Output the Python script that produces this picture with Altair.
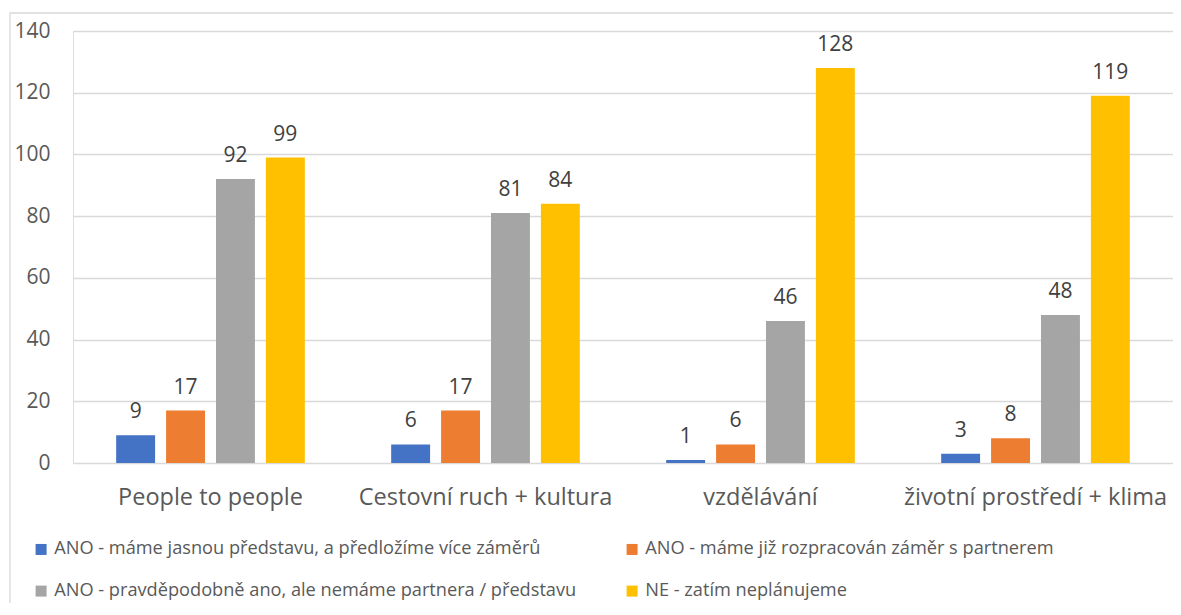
import altair as alt
import pandas as pd

categories = ["People to people", "Cestovní ruch + kultura", "vzdělávání", "životní prostředí + klima"]
series = [
    "ANO - máme jasnou představu, a předložíme více záměrů",
    "ANO - máme již rozpracován záměr s partnerem",
    "ANO - pravděpodobně ano, ale nemáme partnera / představu",
    "NE - zatím neplánujeme",
]
colors = ["#4472C4", "#ED7D31", "#A5A5A5", "#FFC000"]
values_s1 = [9, 6, 1, 3]
values_s2 = [17, 17, 6, 8]
values_s3 = [92, 81, 46, 48]
values_s4 = [99, 84, 128, 119]
y_ticks = [0, 20, 40, 60, 80, 100, 120, 140]

rows = []
for s, vals in zip(series, [values_s1, values_s2, values_s3, values_s4]):
    for c, v in zip(categories, vals):
        rows.append({"kategorie": c, "odpověď": s, "počet": v})
df = pd.DataFrame(rows)

FONT = "Open Sans"

x_enc = alt.X("kategorie:N", sort=categories, title=None,
              scale=alt.Scale(paddingInner=0.314, paddingOuter=0.157),
              axis=alt.Axis(labelAngle=0, ticks=False, domain=False, labelPadding=22,
                            labelFontSize=23.5, labelColor="#595959", labelFont=FONT,
                            labelLimit=500, grid=False))
xo_enc = alt.XOffset("odpověď:N", sort=series,
                     scale=alt.Scale(paddingInner=0.22, paddingOuter=0))
y_enc = alt.Y("počet:Q", title=None,
              scale=alt.Scale(domain=[0, 140], nice=False),
              axis=alt.Axis(values=y_ticks, ticks=False, domain=False, labelPadding=23,
                            labelFontSize=21, labelColor="#595959", labelFont=FONT,
                            grid=True, gridColor="#D9D9D9", gridWidth=1.3))

bars = alt.Chart(df).mark_bar().encode(
    x=x_enc,
    xOffset=xo_enc,
    y=y_enc,
    color=alt.Color("odpověď:N", sort=series,
                    scale=alt.Scale(domain=series, range=colors),
                    legend=alt.Legend(title=None, orient="none", legendX=-41, legendY=509,
                                      columns=2, direction="horizontal",
                                      symbolType="square", symbolSize=121,
                                      symbolStrokeWidth=0, labelFontSize=18.2,
                                      labelFont=FONT, labelColor="#595959",
                                      labelOffset=4, columnPadding=46, rowPadding=23,
                                      labelLimit=800, padding=0)),
)

labels = alt.Chart(df).mark_text(baseline="alphabetic", dy=-17, fontSize=21,
                                 font=FONT, color="#404040").encode(
    x=alt.X("kategorie:N", sort=categories),
    xOffset=alt.XOffset("odpověď:N", sort=series),
    y="počet:Q",
    text="počet:Q",
)

border = alt.Chart(pd.DataFrame({"a": [0]})).mark_rect(
    fill=None, stroke="#D9D9D9", strokeWidth=1.3
).encode(
    x=alt.value(-63), x2=alt.value(1120), y=alt.value(-18), y2=alt.value(600)
)

chart = alt.layer(border, bars, labels).properties(
    width=1100, height=432,
    padding={"left": 65, "top": 23, "right": 0, "bottom": 140},
    autosize=alt.AutoSizeParams(type="none"),
).configure_view(stroke=None).configure(font=FONT)

chart.save("out.html", embed_options={"renderer": "svg", "actions": False})
